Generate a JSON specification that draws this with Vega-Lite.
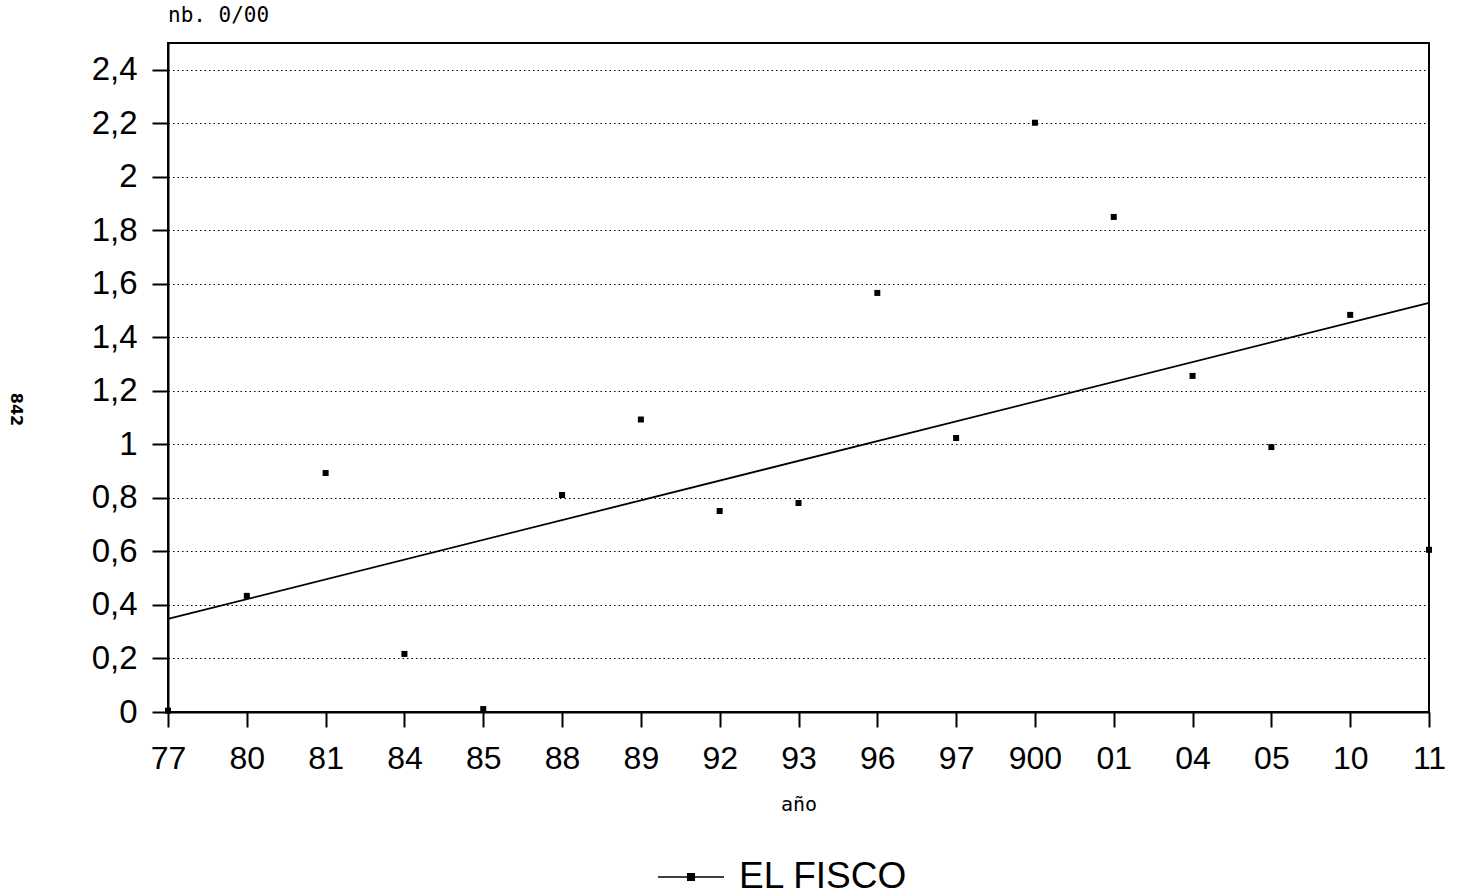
{
  "$schema": "https://vega.github.io/schema/vega-lite/v6.json",
  "width": 1261,
  "height": 669,
  "autosize": "none",
  "padding": {"left": 168, "top": 43, "right": 31, "bottom": 184},
  "background": "white",
  "title": {
    "text": "nb. 0/00",
    "anchor": "start",
    "frame": "group",
    "font": "DejaVu Sans Mono",
    "fontSize": 21,
    "fontWeight": "normal",
    "color": "black",
    "offset": 17
  },
  "datasets": {
    "fisco": [
      {"anio": "77", "valor": 0.005, "serie": "EL FISCO"},
      {"anio": "80", "valor": 0.434, "serie": "EL FISCO"},
      {"anio": "81", "valor": 0.893, "serie": "EL FISCO"},
      {"anio": "84", "valor": 0.217, "serie": "EL FISCO"},
      {"anio": "85", "valor": 0.011, "serie": "EL FISCO"},
      {"anio": "88", "valor": 0.811, "serie": "EL FISCO"},
      {"anio": "89", "valor": 1.093, "serie": "EL FISCO"},
      {"anio": "92", "valor": 0.751, "serie": "EL FISCO"},
      {"anio": "93", "valor": 0.781, "serie": "EL FISCO"},
      {"anio": "96", "valor": 1.566, "serie": "EL FISCO"},
      {"anio": "97", "valor": 1.024, "serie": "EL FISCO"},
      {"anio": "900", "valor": 2.202, "serie": "EL FISCO"},
      {"anio": "01", "valor": 1.85, "serie": "EL FISCO"},
      {"anio": "04", "valor": 1.256, "serie": "EL FISCO"},
      {"anio": "05", "valor": 0.99, "serie": "EL FISCO"},
      {"anio": "10", "valor": 1.484, "serie": "EL FISCO"},
      {"anio": "11", "valor": 0.606, "serie": "EL FISCO"}
    ],
    "tendencia": [
      {"anio": "77", "valor": 0.348},
      {"anio": "11", "valor": 1.529}
    ]
  },
  "encoding": {
    "x": {
      "field": "anio",
      "type": "ordinal",
      "scale": {
        "type": "point",
        "padding": 0,
        "domain": ["77", "80", "81", "84", "85", "88", "89", "92", "93", "96", "97", "900", "01", "04", "05", "10", "11"]
      },
      "axis": {
        "title": "año",
        "titleFont": "DejaVu Sans Mono",
        "titleFontSize": 20,
        "titleFontWeight": "normal",
        "titleColor": "black",
        "titlePadding": 20,
        "labelFont": "Liberation Sans",
        "labelFontSize": 32,
        "labelColor": "black",
        "labelAngle": 0,
        "labelPadding": 16,
        "tickSize": 15,
        "tickWidth": 2,
        "tickColor": "black",
        "domainColor": "black",
        "domainWidth": 2,
        "grid": false
      }
    },
    "y": {
      "field": "valor",
      "type": "quantitative",
      "scale": {"domain": [0, 2.5], "nice": false, "zero": true},
      "axis": {
        "title": "842",
        "titleAngle": 90,
        "titleFont": "DejaVu Sans",
        "titleFontSize": 16,
        "titleFontWeight": "bold",
        "titleColor": "black",
        "titleX": -153,
        "titleY": 366,
        "titleAlign": "center",
        "titleBaseline": "middle",
        "values": [0, 0.2, 0.4, 0.6, 0.8, 1, 1.2, 1.4, 1.6, 1.8, 2, 2.2, 2.4],
        "labelExpr": "replace(format(datum.value, '~g'), '.', ',')",
        "labelFont": "Liberation Sans",
        "labelFontSize": 33,
        "labelColor": "black",
        "labelPadding": 15,
        "tickSize": 16,
        "tickWidth": 2,
        "tickColor": "black",
        "domainColor": "black",
        "domainWidth": 2,
        "grid": true,
        "gridColor": "black",
        "gridWidth": 1.2,
        "gridDash": [1.5, 3]
      }
    }
  },
  "layer": [
    {
      "data": {"name": "tendencia"},
      "mark": {"type": "line", "color": "black", "strokeWidth": 1.8}
    },
    {
      "data": {"name": "fisco"},
      "mark": {"type": "point", "shape": "square", "filled": true, "size": 36, "opacity": 1},
      "encoding": {
        "color": {
          "field": "serie",
          "type": "nominal",
          "scale": {"range": ["black"]},
          "legend": {
            "title": null,
            "orient": "none",
            "legendX": 489,
            "legendY": 800,
            "padding": 0,
            "symbolType": "M-1,0H1M-0.1,-0.1H0.1V0.1H-0.1Z",
            "symbolSize": 4356,
            "symbolStrokeWidth": 1.5,
            "symbolStrokeColor": "black",
            "symbolFillColor": "black",
            "labelFont": "Liberation Sans",
            "labelFontSize": 37,
            "labelColor": "black",
            "labelOffset": 14,
            "labelLimit": 400
          }
        }
      }
    }
  ],
  "config": {
    "view": {"stroke": "black", "strokeWidth": 2}
  }
}
